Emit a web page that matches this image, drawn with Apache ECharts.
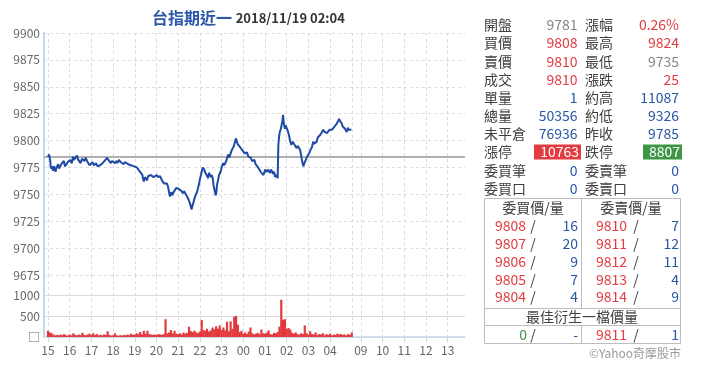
<!DOCTYPE html>
<html>

<head>
    <meta charset="UTF-8">
    <title>台指期近一</title>
    <script src="https://cdn.jsdelivr.net/npm/echarts@6.0.0/dist/echarts.min.js"></script>
    <style>
        html, body { margin: 0; padding: 0; background: #fff; }
        #chart { width: 720px; height: 378px; }
    </style>
</head>

<body>
    <div id="chart"></div>
    <script>
        // 時間軸刻度 (小時)
        const tickHours = ['15', '16', '17', '18', '19', '20', '21', '22', '23', '00', '01', '02', '03', '04', '09', '10', '11', '12', '13'];
        const prevClose = 9785;

        // 成交價 (分時)
        const priceTimes = [
            '15:00', '15:03', '15:06', '15:08', '15:11', '15:14', '15:17', '15:21', '15:24', '15:28', '15:31', '15:35', '15:39', '15:44', '15:47', '15:50', '15:55',
            '16:01', '16:06', '16:09', '16:12', '16:15', '16:20', '16:24', '16:26', '16:30', '16:34', '16:37', '16:41', '16:44', '16:48', '16:51', '16:55', '16:59',
            '17:03', '17:07', '17:10', '17:13', '17:17', '17:21', '17:24', '17:27', '17:31', '17:35', '17:39', '17:43', '17:47', '17:51', '17:54', '17:57',
            '18:01', '18:05', '18:09', '18:12', '18:16', '18:21', '18:25', '18:29', '18:33', '18:38', '18:42', '18:46', '18:49', '18:53', '18:58',
            '19:02', '19:06', '19:09', '19:12', '19:15', '19:17', '19:21', '19:23', '19:25', '19:28', '19:31', '19:34', '19:37', '19:39', '19:44', '19:48', '19:52', '19:56',
            '20:01', '20:04', '20:07', '20:10', '20:12', '20:15', '20:18', '20:21', '20:25', '20:29', '20:32', '20:35', '20:37', '20:39', '20:41', '20:44', '20:46', '20:49', '20:51', '20:55', '20:59',
            '21:02', '21:05', '21:09', '21:13', '21:16', '21:19', '21:23', '21:26', '21:29', '21:31', '21:34', '21:37', '21:40', '21:42', '21:44', '21:46', '21:49', '21:52', '21:55', '21:58',
            '22:00', '22:03', '22:05', '22:08', '22:12', '22:15', '22:17', '22:20', '22:23', '22:25', '22:28', '22:31', '22:33', '22:36', '22:38', '22:41', '22:44', '22:46', '22:47', '22:50', '22:53', '22:56', '22:58',
            '23:01', '23:04', '23:07', '23:09', '23:13', '23:18', '23:21', '23:23', '23:26', '23:28', '23:31', '23:34', '23:37', '23:40', '23:42', '23:44', '23:46', '23:48', '23:51', '23:54', '23:57',
            '00:00', '00:04', '00:07', '00:10', '00:14', '00:17', '00:21', '00:24', '00:28', '00:31', '00:34', '00:38', '00:41', '00:44', '00:48', '00:51', '00:55', '00:58',
            '01:00', '01:03', '01:05', '01:08', '01:11', '01:14', '01:17', '01:20', '01:22', '01:25', '01:28', '01:31', '01:35', '01:37', '01:39', '01:41', '01:44', '01:46', '01:48', '01:50', '01:52', '01:55', '01:57', '01:59',
            '02:02', '02:04', '02:07', '02:09', '02:11', '02:13', '02:17', '02:20', '02:24', '02:27', '02:31', '02:34', '02:36', '02:38', '02:40', '02:42', '02:44', '02:46', '02:48', '02:50', '02:53', '02:55', '02:58',
            '03:00', '03:02', '03:04', '03:07', '03:10', '03:12', '03:13', '03:16', '03:18', '03:21', '03:23', '03:26', '03:29', '03:32', '03:34', '03:36', '03:39', '03:41', '03:45', '03:49', '03:52', '03:55', '03:58',
            '04:02', '04:05', '04:09', '04:12', '04:14', '04:17', '04:19', '04:22', '04:25', '04:28', '04:32', '04:35', '04:37', '04:41', '04:43', '04:46', '04:49', '04:52', '04:54', '04:57', '04:59'
        ];
        const priceValues = [
            9785, 9787, 9782, 9774, 9776, 9772, 9776, 9771, 9775, 9778, 9774, 9777, 9779, 9781, 9776, 9777, 9780,
            9782, 9779, 9785, 9782, 9783, 9786, 9782, 9781, 9779, 9783, 9784, 9781, 9784, 9781, 9780, 9777, 9778,
            9780, 9777, 9776, 9779, 9776, 9775, 9777, 9777, 9779, 9780, 9782, 9784, 9782, 9781, 9779, 9781,
            9780, 9779, 9781, 9779, 9782, 9780, 9781, 9778, 9780, 9781, 9778, 9779, 9777, 9778, 9776,
            9777, 9775, 9776, 9772, 9773, 9771, 9768, 9764, 9762, 9766, 9765, 9763, 9767, 9766, 9768, 9769, 9766, 9766,
            9768, 9766, 9765, 9767, 9766, 9763, 9762, 9760, 9759, 9760, 9757, 9756, 9748, 9750, 9752, 9749, 9751, 9753, 9754, 9756, 9757,
            9755, 9754, 9753, 9751, 9753, 9752, 9749, 9747, 9745, 9744, 9740, 9736, 9740, 9742, 9745, 9747, 9750, 9752, 9756, 9760,
            9764, 9768, 9771, 9775, 9773, 9770, 9769, 9767, 9765, 9770, 9770, 9766, 9768, 9764, 9758, 9753, 9749, 9753, 9758, 9763, 9768, 9770, 9772,
            9776, 9779, 9777, 9776, 9781, 9787, 9784, 9785, 9789, 9791, 9793, 9795, 9799, 9802, 9799, 9797, 9798, 9796, 9794, 9793, 9791,
            9790, 9788, 9787, 9789, 9785, 9786, 9784, 9781, 9780, 9782, 9778, 9777, 9775, 9776, 9771, 9772, 9768, 9770,
            9773, 9774, 9771, 9773, 9774, 9770, 9773, 9771, 9769, 9771, 9766, 9768, 9765, 9796, 9804, 9808, 9811, 9812, 9818, 9824, 9816, 9811, 9814, 9813,
            9810, 9808, 9804, 9800, 9798, 9796, 9799, 9797, 9795, 9793, 9795, 9794, 9792, 9790, 9786, 9782, 9779, 9776, 9778, 9780, 9782, 9784, 9786,
            9787, 9788, 9790, 9792, 9794, 9797, 9799, 9797, 9796, 9798, 9799, 9803, 9802, 9805, 9806, 9807, 9806, 9810, 9808, 9809, 9807, 9808, 9810,
            9809, 9810, 9811, 9813, 9814, 9815, 9816, 9818, 9820, 9818, 9816, 9813, 9812, 9811, 9812, 9808, 9812, 9810, 9809, 9810, 9810
        ];

        // 成交量 (每5分鐘, 由15:00起)
        const volStart = '15:00';
        const volStep = 5;
        const volValues = [
            150, 110, 90, 60, 40, 50, 40, 60, 45, 70, 40, 35, 60, 40, 90, 50, 40, 60, 45, 100,
            50, 40, 60, 80, 50, 90, 45, 70, 40, 55, 40, 60, 50, 140, 50, 35, 40, 90, 40, 30,
            45, 35, 50, 40, 60, 45, 80, 50, 60, 90, 70, 120, 60, 150, 80, 150, 70, 60, 50, 60,
            50, 70, 60, 50, 70, 430, 90, 110, 170, 90, 150, 80, 70, 90, 60, 110, 80, 100, 250, 140,
            120, 150, 110, 90, 130, 410, 170, 150, 200, 130, 160, 230, 190, 260, 200, 280, 170, 230, 160, 370,
            140, 380, 200, 490, 510, 300, 120, 150, 80, 110, 70, 130, 230, 90, 60, 80, 100, 70, 180, 90,
            80, 110, 160, 70, 60, 100, 90, 120, 250, 900, 420, 430, 200, 220, 180, 100, 80, 110, 70, 60,
            90, 70, 280, 90, 60, 140, 70, 60, 110, 50, 70, 60, 90, 40, 70, 50, 80, 40, 60, 50,
            80, 60, 70, 50, 60, 40, 70, 50, 110
        ];

        // 報價欄
        const infoLabelsL = ['開盤', '買價', '賣價', '成交', '單量', '總量', '未平倉', '漲停', '委買筆', '委買口'];
        const infoValuesL = ['9781', '9808', '9810', '9810', '1', '50356', '76936', '10763', '0', '0'];
        const infoKindsL = ['p', 'p', 'p', 'p', 'q', 'q', 'q', 'up', 'q', 'q'];
        const infoLabelsR = ['漲幅', '最高', '最低', '漲跌', '約高', '約低', '昨收', '跌停', '委賣筆', '委賣口'];
        const infoValuesR = ['0.26%', '9824', '9735', '25', '11087', '9326', '9785', '8807', '0', '0'];
        const infoKindsR = ['c', 'p', 'p', 'c', 'q', 'q', 'q', 'down', 'q', 'q'];

        // 五檔
        const bidPrices = ['9808', '9807', '9806', '9805', '9804'];
        const bidQty = ['16', '20', '9', '7', '4'];
        const askPrices = ['9810', '9811', '9812', '9813', '9814'];
        const askQty = ['7', '12', '11', '4', '9'];
        const bestBid = ['0', '-'];
        const bestAsk = ['9811', '1'];

        const RED = '#e23c40', BLUE = '#2b57a8', GREY = '#858585', GREEN = '#3d9545', LABEL = '#404040';
        const FONT = '"Noto Sans CJK TC", "Noto Sans", sans-serif';

        // 分鐘類目軸: 夜盤 + 日盤
        function pad(n) { return (n < 10 ? '0' : '') + n; }
        function minutes(from, to) {
            const out = [];
            let [h, m] = from.split(':').map(Number);
            while (true) {
                const s = pad(h) + ':' + pad(m);
                out.push(s);
                if (s === to) break;
                m++;
                if (m === 60) { m = 0; h = (h + 1) % 24; }
            }
            return out;
        }
        const categories = minutes('14:49', '05:00').concat(minutes('08:36', '13:48'));

        const isLabelTick = (i, v) => v.endsWith(':00') && tickHours.includes(v.slice(0, 2));
        const isSplit = (i, v) => isLabelTick(i, v) || v === '05:00';

        const priceData = priceTimes.map((t, i) => [t, priceValues[i]]);
        const volBase = categories.indexOf(volStart);
        const volData = volValues.map((v, i) => [categories[volBase + i * volStep], v]);

        function valueColor(kind, v) {
            if (kind === 'p') return Number(v) > prevClose ? RED : GREY;
            if (kind === 'c') return parseFloat(v) > 0 ? RED : GREEN;
            return BLUE;
        }

        function txt(x, y, text, color, align, size, weight) {
            return {
                type: 'text', x: x, y: y, silent: true,
                style: {
                    text: text, fill: color, fontSize: size || 14, fontFamily: FONT, fontWeight: weight || 'normal',
                    textAlign: align, align: align, textVerticalAlign: 'middle', verticalAlign: 'middle'
                }
            };
        }
        function line(x1, y1, x2, y2) {
            return { type: 'line', silent: true, shape: { x1: x1, y1: y1, x2: x2, y2: y2 }, style: { stroke: '#bdbdbd', lineWidth: 1 } };
        }

        const graphics = [];
        infoLabelsL.forEach((lab, i) => {
            const y = 25 + i * 18.15;
            graphics.push(txt(484, y, lab, LABEL, 'left'));
            graphics.push(txt(585, y, infoLabelsR[i], LABEL, 'left'));
            if (infoKindsL[i] === 'up') {
                graphics.push({ type: 'rect', silent: true, shape: { x: 534, y: y - 7.5, width: 47, height: 15 }, style: { fill: RED } });
                graphics.push(txt(579, y, infoValuesL[i], '#fff', 'right'));
            } else {
                graphics.push(txt(577.5, y, infoValuesL[i], valueColor(infoKindsL[i], infoValuesL[i]), 'right'));
            }
            if (infoKindsR[i] === 'down') {
                graphics.push({ type: 'rect', silent: true, shape: { x: 643, y: y - 7.5, width: 39, height: 15 }, style: { fill: GREEN } });
                graphics.push(txt(680, y, infoValuesR[i], '#fff', 'right'));
            } else {
                graphics.push(txt(679, y, infoValuesR[i], valueColor(infoKindsR[i], infoValuesR[i]), 'right'));
            }
        });

        // 五檔表格
        graphics.push({ type: 'rect', silent: true, shape: { x: 484.5, y: 198.5, width: 196, height: 145 }, style: { fill: 'none', stroke: '#bdbdbd', lineWidth: 1 } });
        graphics.push(line(581.5, 198.5, 581.5, 308.5));
        graphics.push(line(581.5, 325.5, 581.5, 343.5));
        graphics.push(line(484.5, 308.5, 680.5, 308.5));
        graphics.push(line(484.5, 325.5, 680.5, 325.5));
        graphics.push(txt(533, 207.5, '委買價/量', LABEL, 'center'));
        graphics.push(txt(631, 207.5, '委賣價/量', LABEL, 'center'));
        bidPrices.forEach((p, i) => {
            const y = 226 + i * 17.75;
            graphics.push(txt(495, y, p, RED, 'left'));
            graphics.push(txt(533, y, '/', LABEL, 'center'));
            graphics.push(txt(578, y, bidQty[i], BLUE, 'right'));
            graphics.push(txt(596, y, askPrices[i], RED, 'left'));
            graphics.push(txt(636, y, '/', LABEL, 'center'));
            graphics.push(txt(679, y, askQty[i], BLUE, 'right'));
        });
        graphics.push(txt(582, 317, '最佳衍生一檔價量', LABEL, 'center'));
        graphics.push(txt(527, 334.5, bestBid[0], GREEN, 'right'));
        graphics.push(txt(533, 334.5, '/', LABEL, 'center'));
        graphics.push(txt(578, 334.5, bestBid[1], BLUE, 'right'));
        graphics.push(txt(596, 334.5, bestAsk[0], RED, 'left'));
        graphics.push(txt(636, 334.5, '/', LABEL, 'center'));
        graphics.push(txt(679, 334.5, bestAsk[1], BLUE, 'right'));
        graphics.push(txt(681, 353, '©Yahoo奇摩股市', '#9a9a9a', 'right', 12));

        const chart = echarts.init(document.getElementById('chart'));
        const axisBlue = '#c6d6ec';
        const gridDash = { color: '#dcdcdc', type: [3, 3], width: 1 };

        chart.setOption({
            animation: false,
            textStyle: { fontFamily: FONT },
            title: {
                text: '台指期近一 {d|2018/11/19 02:04}',
                left: 147, top: 5,
                textStyle: {
                    color: '#2b57a8', fontSize: 16, fontWeight: 'bold', fontFamily: FONT,
                    rich: { d: { color: '#333', fontSize: 13, fontWeight: 'bold', fontFamily: FONT } }
                }
            },
            grid: [
                { left: 44, top: 33, width: 421, height: 242 },
                { left: 44, top: 275, width: 421, height: 62 }
            ],
            xAxis: [
                {
                    type: 'category', gridIndex: 0, data: categories, boundaryGap: false,
                    axisLine: { show: false }, axisTick: { show: false }, axisLabel: { show: false },
                    splitLine: { show: true, interval: isSplit, lineStyle: gridDash }
                },
                {
                    type: 'category', gridIndex: 1, data: categories, boundaryGap: false,
                    axisLine: { show: true, lineStyle: { color: axisBlue, width: 1.5 } },
                    axisTick: { show: true, interval: isLabelTick, length: 5, lineStyle: { color: axisBlue } },
                    axisLabel: { interval: isLabelTick, formatter: v => v.slice(0, 2), color: '#666', fontSize: 12, margin: 7 },
                    splitLine: { show: true, interval: isSplit, lineStyle: gridDash }
                }
            ],
            yAxis: [
                {
                    type: 'value', gridIndex: 0, min: 9675, max: 9900, interval: 25,
                    axisLine: { show: true, lineStyle: { color: axisBlue, width: 2 } }, axisTick: { show: false },
                    axisLabel: { color: '#666', fontSize: 12, margin: 4, formatter: v => String(v) },
                    splitLine: { show: true, lineStyle: gridDash }
                },
                {
                    type: 'value', gridIndex: 1, min: 0, max: 1500, interval: 500,
                    axisLine: { show: true, lineStyle: { color: axisBlue, width: 2 } }, axisTick: { show: false },
                    axisLabel: { color: '#666', fontSize: 12, margin: 4, formatter: v => v === 0 ? '□' : (v === 1500 ? '' : String(v)) },
                    splitLine: { show: true, showMaxLine: false, lineStyle: { color: '#dcdcdc', width: 1 } }
                }
            ],
            series: [
                {
                    type: 'line', xAxisIndex: 0, yAxisIndex: 0, data: priceData,
                    showSymbol: false, symbol: 'none', z: 3,
                    lineStyle: { color: '#1f4ba5', width: 2 },
                    markLine: {
                        silent: true, symbol: 'none', label: { show: false }, z: 2,
                        lineStyle: { color: '#b0b0b0', type: 'solid', width: 2 },
                        data: [{ yAxis: prevClose }]
                    }
                },
                {
                    type: 'bar', xAxisIndex: 1, yAxisIndex: 1, data: volData,
                    barWidth: 2.2, itemStyle: { color: '#e2393d' }
                }
            ],
            graphic: graphics
        });
    </script>
</body>

</html>
